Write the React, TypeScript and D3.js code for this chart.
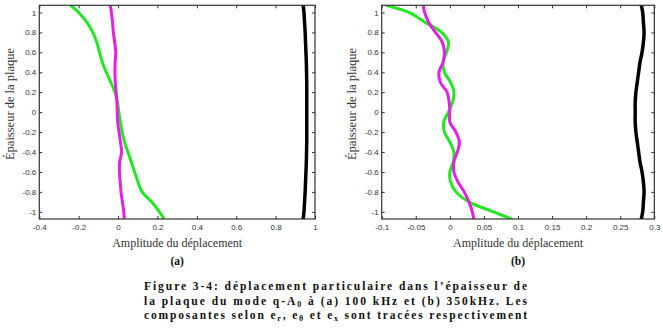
import React, { useEffect, useRef } from 'react';
import { axisBottom, axisLeft, axisRight, axisTop, curveCatmullRom, line, scaleLinear, select } from 'd3';

// plate thickness sample positions (normalised), shared by every profile
const thickness = [1.07, 1, 0.9, 0.8, 0.7, 0.6, 0.5, 0.4, 0.3, 0.2, 0.1, 0, -0.1, -0.2, -0.3, -0.4, -0.5, -0.6, -0.7, -0.8, -0.9, -1, -1.07];

// (a) 100 kHz
const greenA = [-0.239, -0.2, -0.158, -0.128, -0.108, -0.094, -0.08, -0.06, -0.037, -0.016, -0.003, 0.004, 0.012, 0.021, 0.033, 0.05, 0.067, 0.084, 0.101, 0.122, 0.17, 0.21, 0.233];
const magentaA = [-0.039, -0.034, -0.028, -0.024, -0.017, -0.012, -0.015, -0.016, -0.014, -0.01, -0.006, -0.004, -0.002, 0.005, 0.012, 0.018, 0.008, 0.007, 0.011, 0.015, 0.022, 0.029, 0.032];
const blackA = [0.94, 0.944, 0.947, 0.95, 0.952, 0.954, 0.956, 0.957, 0.958, 0.958, 0.958, 0.958, 0.958, 0.958, 0.958, 0.957, 0.956, 0.954, 0.952, 0.95, 0.947, 0.944, 0.94];

// (b) 350 kHz
const greenB = [-0.092, -0.06, -0.036, -0.012, -0.002, -0.005, -0.01, -0.008, 0.001, 0.006, 0.004, -0.002, -0.009, -0.008, 0, 0.006, 0.005, 0, 0.001, 0.009, 0.028, 0.064, 0.09];
const magentaB = [-0.039, -0.037, -0.031, -0.021, -0.011, -0.008, -0.01, -0.016, -0.014, -0.004, -0.001, 0, 0, 0.009, 0.014, 0.011, 0.006, 0.006, 0.012, 0.021, 0.028, 0.033, 0.035];
const blackB = [0.281, 0.283, 0.284, 0.285, 0.284, 0.282, 0.279, 0.277, 0.275, 0.273, 0.272, 0.272, 0.272, 0.273, 0.275, 0.277, 0.279, 0.282, 0.284, 0.285, 0.284, 0.283, 0.281];

const yTicks = [-1, -0.8, -0.6, -0.4, -0.2, 0, 0.2, 0.4, 0.6, 0.8, 1];
const xTicksA = [-0.4, -0.2, 0, 0.2, 0.4, 0.6, 0.8, 1];
const xTicksB = [-0.1, -0.05, 0, 0.05, 0.1, 0.15, 0.2, 0.25, 0.3];

const GREEN = '#22e822';
const MAGENTA = '#e61ee6';
const SERIF = "'Liberation Serif', 'Times New Roman', serif";
const SANS = "'Liberation Sans', Arial, sans-serif";

const top = 5.3;
const bottom = 219;
const yDomain = [-1.072, 1.072];

function Panel({ id, left, right, xDomain, xTicks, series, label, titleX }) {
  const ref = useRef(null);
  const w = right - left;
  const h = bottom - top;

  const x = scaleLinear().domain(xDomain).range([0, w]);
  const y = scaleLinear().domain(yDomain).range([h, 0]);

  useEffect(() => {
    const g = select(ref.current);
    g.selectAll('*').remove();
    const fmt = (d) => String(d);

    const styleAxis = (sel) => {
      sel.attr('font-family', SANS).attr('font-size', 8);
      sel.select('.domain').remove();
      sel.selectAll('line').attr('stroke', '#333');
      sel.selectAll('text').attr('fill', '#333');
    };

    g.append('g').call(axisLeft(y).tickValues(yTicks).tickSize(-3).tickPadding(3).tickFormat(fmt)).call(styleAxis);
    g.append('g').attr('transform', `translate(0,${h})`)
      .call(axisBottom(x).tickValues(xTicks).tickSize(-3).tickPadding(5).tickFormat(fmt)).call(styleAxis);
    g.append('g').attr('transform', `translate(${w},0)`)
      .call(axisRight(y).tickValues(yTicks).tickSize(-3).tickFormat(() => '')).call(styleAxis);
    g.append('g').call(axisTop(x).tickValues(xTicks).tickSize(-3).tickFormat(() => '')).call(styleAxis);
  }, []);

  const path = (vals) =>
    line()
      .x((d) => x(d[0]))
      .y((d) => y(d[1]))
      .curve(curveCatmullRom)(vals.map((v, i) => [v, thickness[i]]));

  return (
    <g transform={`translate(${left},${top})`}>
      <defs>
        <clipPath id={`clip-${id}`}>
          <rect x={0} y={0} width={w} height={h} />
        </clipPath>
      </defs>
      <g clipPath={`url(#clip-${id})`} fill="none" strokeLinejoin="round" strokeLinecap="round">
        {series.map((s, i) => (
          <path key={i} d={path(s.values)} stroke={s.color} strokeWidth={s.width} />
        ))}
      </g>
      <rect x={0} y={0} width={w} height={h} fill="none" stroke="#333" strokeWidth={1.2} />
      <g ref={ref} />
      <text x={w / 2} y={h + 28} textAnchor="middle" style={{ fontFamily: SERIF, fontSize: 12 }} fill="#333">
        Amplitude du déplacement
      </text>
      <text transform={`translate(${titleX - left},${104 - top}) rotate(-90)`} textAnchor="middle"
        style={{ fontFamily: SERIF, fontSize: 12.5 }} fill="#333">
        Épaisseur de la plaque
      </text>
      <text x={w / 2} y={h + 46} textAnchor="middle" style={{ fontFamily: SERIF, fontSize: 11.5, fontWeight: 'bold' }} fill="#111">
        {label}
      </text>
    </g>
  );
}

export default function App() {
  const cap = { fontFamily: SERIF, fontWeight: 'bold', fontSize: 11.5 };
  const sub = { fontSize: 8 };
  return (
    <svg width={663} height={331} style={{ position: 'absolute', left: 0, top: 0, background: '#fff' }}>
      <Panel id="a" left={39.3} right={315} xDomain={[-0.4, 1]} xTicks={xTicksA} label="(a)" titleX={14}
        series={[
          { values: blackA, color: '#000', width: 3.5 },
          { values: greenA, color: GREEN, width: 3 },
          { values: magentaA, color: MAGENTA, width: 3 },
        ]} />
      <Panel id="b" left={381.7} right={654.3} xDomain={[-0.1, 0.3]} xTicks={xTicksB} label="(b)" titleX={356}
        series={[
          { values: blackB, color: '#000', width: 3.5 },
          { values: greenB, color: GREEN, width: 3 },
          { values: magentaB, color: MAGENTA, width: 3 },
        ]} />
      <g fill="#111">
        <text x={144} y={290} textLength={383} lengthAdjust="spacing" style={cap}>
          Figure 3-4: déplacement particulaire dans l’épaisseur de
        </text>
        <text x={144} y={304.5} textLength={383} lengthAdjust="spacing" style={cap}>
          la plaque du mode q-A<tspan dy={2.5} style={sub}>0</tspan><tspan dy={-2.5}> à (a) 100 kHz et (b) 350kHz. Les</tspan>
        </text>
        <text x={144} y={318.5} textLength={383} lengthAdjust="spacing" style={cap}>
          composantes selon e<tspan dy={2.5} style={sub}>r</tspan><tspan dy={-2.5}>, e</tspan><tspan dy={2.5} style={sub}>θ</tspan>
          <tspan dy={-2.5}> et e</tspan><tspan dy={2.5} style={sub}>x</tspan><tspan dy={-2.5}> sont tracées respectivement</tspan>
        </text>
      </g>
    </svg>
  );
}
